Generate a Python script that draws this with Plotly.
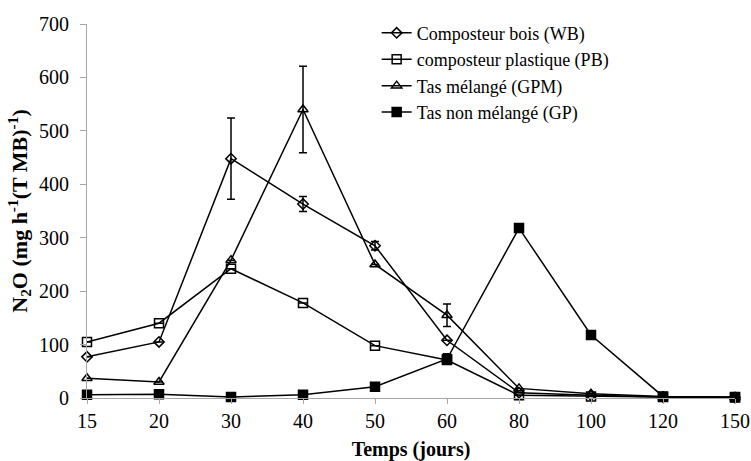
import plotly.graph_objects as go

days = ["15", "20", "30", "40", "50", "60", "80", "100", "120", "150"]

wb = [77, 105, 448, 363, 285, 108, 10, 5, 2, 1]
wb_err = [0, 0, 76, 14, 8, 0, 0, 0, 0, 0]

pb = [105, 140, 242, 178, 98, 71, 5, 3, 2, 1]
pb_err = [0, 0, 0, 0, 0, 0, 0, 0, 0, 0]

gpm = [37, 30, 258, 540, 250, 155, 18, 8, 3, 1]
gpm_err = [0, 0, 0, 81, 0, 21, 0, 0, 0, 0]

gp = [6, 7, 2, 6, 21, 73, 318, 118, 3, 2]
gp_err = [0, 0, 0, 0, 0, 10, 0, 0, 0, 0]

names = ["Composteur bois (WB)", "composteur plastique (PB)",
         "Tas mélangé (GPM)", "Tas non mélangé (GP)"]

FONT = "'Times New Roman', 'Liberation Serif', serif"

series = [
    (wb, wb_err, names[0], "diamond-open", 8),
    (pb, pb_err, names[1], "square-open", 9),
    (gpm, gpm_err, names[2], "triangle-up-open", 9),
    (gp, gp_err, names[3], "square", 9),
]

fig = go.Figure()
for vals, errs, name, sym, sz in series:
    fig.add_trace(go.Scatter(
        x=days, y=vals, name=name, mode="lines+markers",
        line=dict(color="black", width=1.5),
        marker=dict(symbol=sym, size=sz, color="black",
                    line=dict(color="black", width=1.5)),
        error_y=dict(type="data", array=errs, visible=True,
                     color="black", thickness=1.5, width=4),
        cliponaxis=False,
    ))

fig.update_layout(
    width=751, height=461,
    margin=dict(l=87, r=16, t=24, b=63),
    paper_bgcolor="white", plot_bgcolor="white",
    font=dict(family=FONT, size=20, color="black"),
    showlegend=True,
    legend=dict(x=0.447, y=1.025, xanchor="left", yanchor="top",
                font=dict(size=18, family=FONT), bgcolor="rgba(0,0,0,0)",
                tracegroupgap=0, itemwidth=30),
    xaxis=dict(
        type="category", range=[0, 9], showgrid=False, automargin=False,
        showline=True, linecolor="#a6a6a6", linewidth=1,
        ticks="outside", ticklen=5, tickcolor="#a6a6a6",
        tickfont=dict(size=20, family=FONT),
        title=dict(text="<b>Temps (jours)</b>", font=dict(size=20, family=FONT),
                   standoff=19),
        zeroline=False,
    ),
    yaxis=dict(
        range=[0, 700], dtick=100, showgrid=False, automargin=False,
        showline=True, linecolor="#a6a6a6", linewidth=1,
        ticks="outside", ticklen=6, tickcolor="#a6a6a6",
        ticklabelstandoff=7,
        tickfont=dict(size=20, family=FONT),
        title=dict(text="<b>N<sub>2</sub>O (mg h<sup>-1</sup>(T MB)<sup>-1</sup>)</b>",
                   font=dict(size=22, family=FONT), standoff=5),
        zeroline=False,
    ),
)

fig.write_html("out.html")
